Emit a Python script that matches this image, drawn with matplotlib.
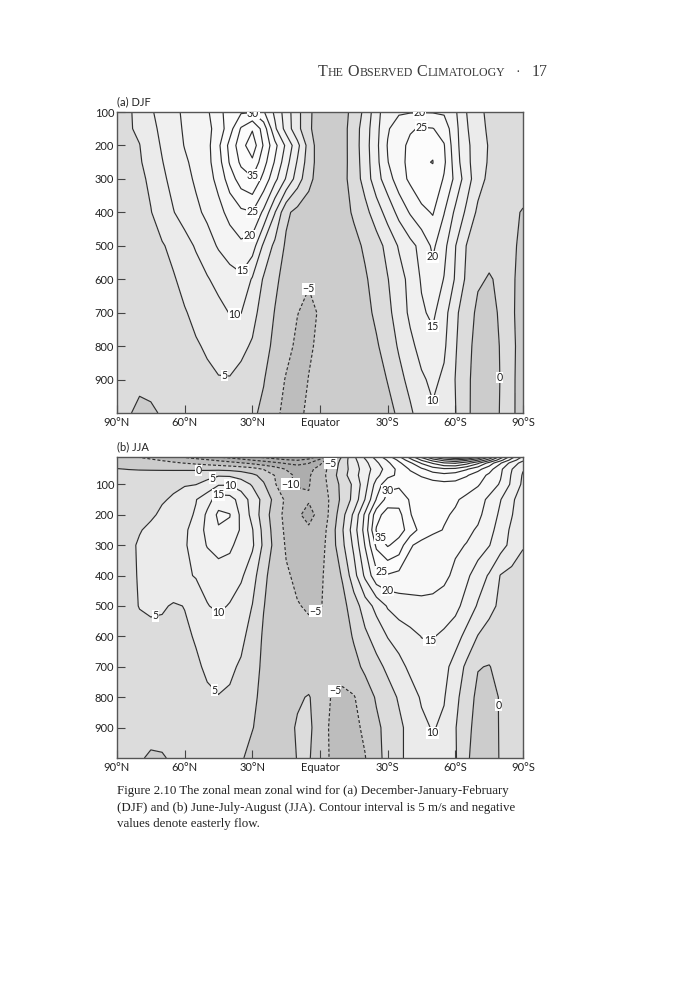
import numpy as np
import matplotlib
matplotlib.use("Agg")
import matplotlib.pyplot as plt

# zonal mean zonal wind (m/s) on a 5 degree grid
lats = [90, 85, 80, 75, 70, 65, 60, 55, 50, 45, 40, 35, 30, 25, 20, 15, 10, 5, 0,
        -5, -10, -15, -20, -25, -30, -35, -40, -45, -50, -55, -60, -65, -70, -75, -80, -85, -90]

p_djf = [100, 150, 200, 250, 300, 400, 500, 600, 700, 800, 900, 1000]
p_jja = [10, 20, 30, 50, 70, 100, 150, 200, 250, 300, 400, 500, 600, 700, 800, 900, 1000]

# (a) DJF, one list per pressure level, 90N -> 90S
djf_100 = [3, 4.3, 6.5, 9.5, 11.5, 13.8, 15.8, 17.3, 19.3, 23.3, 27.5, 29.4, 29.8, 25.5, 19, 12.5, 6.5, 1, -2.5,
           -3, -2, 1.8, 6.3, 13, 18.5, 19.4, 19.7, 19.8, 19.7, 19.3, 15.7, 10, 6.4, 3.8, 3.5, 3.3, 3.2]
djf_150 = [3.5, 4.5, 5.8, 8.5, 11.2, 13.5, 15.5, 17, 18.7, 22, 28, 35.5, 39.5, 33, 21, 13, 6.5, 1, -3,
           -3.2, -1.8, 2.5, 7.5, 13.5, 19.5, 22.5, 24.5, 25.5, 25.2, 23, 16.5, 10.5, 6.8, 4.2, 3.6, 3.4, 3.3]
djf_200 = [2.5, 3.8, 4.9, 7.8, 10.5, 12.8, 15.2, 16.8, 18.5, 24, 31.5, 38, 43, 34.5, 26.5, 19, 11.5, 3, -3,
           -3.3, -1.8, 2.5, 7.8, 13.8, 20.3, 23.5, 26, 29, 29.3, 25.3, 16.8, 11, 7.6, 4.6, 3.6, 3.3, 3]
djf_250 = [2, 3, 4.5, 7, 9.8, 12.3, 14.3, 16.3, 18.5, 23, 30.5, 36, 39, 32, 24.5, 17, 9.5, 2.5, -2.5,
           -3.2, -1.7, 2.3, 7.5, 13.5, 19.8, 23.5, 26.3, 29.6, 30.1, 26, 17.5, 11.2, 7.5, 4.4, 3.4, 3.1, 2.8]
djf_300 = [1.5, 2.5, 3.8, 6, 9, 11.5, 13.5, 15.7, 18, 21.5, 27.5, 32.5, 34.5, 28.5, 21.5, 14.5, 7.5, 1.5, -2.5,
           -3, -1.5, 2.2, 7, 13, 17.7, 22.7, 26, 28.8, 29, 24.5, 18.8, 12.3, 7, 3.8, 3, 2.5, 2]
djf_400 = [1, 2, 3.3, 4.8, 7.5, 9.8, 12, 14, 16, 18.5, 21.5, 24, 24.8, 19, 10.2, 1, -1.5, -2.5, -3,
           -3, -2, 0.7, 3.5, 7.5, 12, 16.5, 20.5, 23.7, 25.4, 20.2, 14, 9, 4, 2.5, 1.8, 0.8, -0.3]
djf_500 = [0.5, 1.5, 2.5, 3.5, 4.6, 6.2, 8.2, 10.5, 13, 15.5, 17.5, 19, 17.5, 9, 3.8, -0.8, -2.5, -3.3, -3.5,
           -3.3, -2.8, -1.5, 0.8, 3, 6.5, 10.5, 13.5, 16.5, 21, 16.5, 10.2, 4.8, 2.5, 1.3, 1.2, 0.6, -0.8]
djf_600 = [0.3, 1, 2, 2.8, 3.6, 4.6, 6.3, 7.8, 9.6, 11.5, 13, 14, 9.5, 4.5, 1, -1.8, -3.5, -4.6, -4.5,
           -4, -3.3, -2.5, -0.6, 2, 4.8, 8, 11.5, 15.5, 18, 14.8, 9.5, 4, 0.6, -0.3, 0.6, 0.4, -1]
djf_700 = [0.2, 0.8, 1.5, 2.2, 2.8, 3.5, 4.7, 6, 7.3, 8.5, 10.2, 10.1, 6.5, 3, -0.2, -3.3, -4.9, -6, -4.6,
           -4.4, -3.8, -3, -1.5, 1, 3.8, 7.2, 11, 14.3, 16, 12, 6, 2.3, -1, -1.3, 0.5, 0.4, -1.2]
djf_800 = [0.2, 0.5, 1, 1.6, 2.2, 3, 3.8, 4.6, 5.5, 6.3, 6.7, 6, 4.5, 1.8, -1.2, -3.8, -5.8, -5.5, -4.3,
           -4.6, -4.3, -3.6, -2.5, -0.6, 2.2, 5.6, 8.8, 11.7, 13.5, 10.8, 5.5, 1.3, -1.5, -1.8, 0.2, 0.6, -1.2]
djf_900 = [0.3, 0.5, 0.5, 1, 1.5, 2, 2.7, 3.4, 4.2, 4.8, 4.8, 3.8, 2.2, 0.3, -3, -5.3, -6.5, -4.9, -3.5,
           -4.2, -4.5, -4.2, -3.4, -2, 0.2, 3.5, 6.5, 9.3, 11, 9.2, 4.9, 0.8, -1.6, -1.9, 0.1, 0.5, -1.2]
djf_1000 = [0.3, 0.2, -0.5, -0.5, 0.3, 0.8, 1.5, 2.2, 2.8, 3, 2.8, 2, 0.9, -1.1, -4, -6.2, -5.9, -4.3, -3,
            -3.8, -4.2, -4.4, -4, -3, -1.4, 0.8, 4.2, 7.5, 9.4, 8, 5.2, 0.7, -1.5, -1.8, 0.2, 0.4, -1]

# (b) JJA
jja_10 = [-3.5, -4.2, -5.2, -6, -7.5, -9, -10.5, -12, -13.5, -15.2, -16.5, -18, -19.5, -21, -22.5, -24, -25.3, -23, -18,
          -9, 1, 9, 16, 22, 28, 34, 42, 51, 60.5, 67, 71, 69, 61, 50.5, 38, 27, 19]
jja_20 = [-2.5, -3, -3.8, -4.5, -5.3, -6.2, -7.2, -8.3, -9.5, -10.8, -12, -13.5, -15.2, -16.5, -18, -19.5, -20.3, -18.5, -14,
          -6, 2, 8.5, 14.5, 20.3, 25.5, 31, 38, 45.5, 52, 57, 59.5, 56, 50.5, 42, 32, 23, 16]
jja_30 = [-1.8, -2.2, -2.8, -3.3, -3.8, -4.4, -5.1, -5.8, -6.6, -7.5, -8.5, -9.6, -11, -12.5, -14, -15.5, -16.5, -15.2, -11,
          -4.5, 2.5, 8, 13.5, 19, 24, 29, 34, 40.5, 45.5, 49.5, 50.5, 47, 41, 33, 25.5, 18, 13]
jja_50 = [0.2, -0.1, -0.3, -0.4, -0.5, -0.6, -0.7, -0.8, -0.9, -1, -1.3, -2, -3, -5.2, -7.5, -10.2, -12, -11.5, -8,
          -3, 2.5, 7.5, 12.5, 17.5, 22, 26.5, 30.5, 34, 37.5, 39, 38.5, 35.5, 31.5, 27, 21, 15.2, 10.3]
jja_70 = [1.5, 1.6, 1.7, 1.8, 2, 2.3, 2.7, 3, 3.5, 4.5, 4.3, 3, 1, -1.5, -5.2, -8.5, -11, -10.5, -7.5,
          -2.5, 3, 8, 13, 18.5, 23.5, 26, 28.5, 30.5, 32.5, 33.5, 32.5, 30.5, 27.5, 24, 20.5, 14.5, 9.5]
jja_100 = [2.5, 2.7, 3, 3.3, 3.8, 4.2, 4.6, 4.9, 6.5, 9.5, 9.6, 7.5, 4.5, 0.5, -4.5, -9.8, -10.3, -10.2, -8,
           -3, 1.5, 6, 13, 22, 28.5, 29, 28, 27.5, 28, 28.5, 28.5, 27, 25.5, 22.5, 19.5, 14, 9]
jja_150 = [2.5, 2.8, 3.3, 4, 4.6, 5.5, 7.5, 9.8, 13, 17.5, 17, 13, 8, 3.5, -1.5, -6, -8.8, -9.7, -8.5,
           -4, 1.5, 6.5, 15.2, 25.3, 32, 33, 29.5, 26.5, 26, 26.5, 25.5, 24, 22, 19, 15.2, 11, 7]
jja_200 = [2.3, 2.6, 3, 4.3, 5.8, 7.2, 8.6, 10.5, 16, 21, 20.2, 14, 8.5, 2.5, -2.5, -6.5, -9.5, -11, -9,
           -3.5, 3.5, 11, 21, 33, 37.5, 36.5, 30.3, 27, 26, 25.5, 24.5, 23, 21, 18, 14, 10.3, 6]
jja_250 = [2.3, 3, 4.7, 6, 7, 8.2, 9.3, 11.8, 16.5, 19.5, 19, 14.3, 10.3, 3.5, -2, -6, -8.5, -9.5, -8,
           -2.5, 4.7, 12.5, 22, 35.5, 38, 37, 33, 28, 26, 24.8, 23, 21, 19.5, 16.5, 13, 9, 5.5]
jja_300 = [2.5, 3.8, 5.6, 6.5, 7.2, 8, 9.5, 12, 15.3, 17, 16, 13, 10.8, 4, -1.5, -5.5, -7.5, -8, -7,
           -2.5, 4, 11, 20.3, 31, 35.5, 33, 25.5, 23.5, 22.5, 21.5, 20.8, 19.8, 17.5, 15.2, 12, 8.5, 5.3]
jja_400 = [2.3, 3.8, 5.4, 6.5, 7.3, 8.2, 9.3, 10.3, 11.5, 12.5, 12.3, 10.8, 7, 1.5, -3, -4.5, -5.8, -6.5, -5.8,
           -3, 0.5, 8, 16, 23.5, 24.5, 23.5, 22.5, 22, 21.5, 21, 19, 16, 12.5, 9.5, 4.8, 3.5, 3.2]
jja_500 = [2, 3.5, 5.2, 5.8, 5.5, 4.6, 5.1, 7.3, 9.8, 10.8, 9.7, 7.5, 4.9, 0.2, -2.6, -4, -4.8, -5.4, -5.1,
           -4.5, -1.5, 2.5, 7.5, 11.5, 15.5, 17.5, 18.5, 19, 19, 18, 16.5, 13, 9.5, 6.5, 4, 3, 2]
jja_600 = [1.5, 2.5, 3.3, 3.6, 3.7, 3.9, 4.4, 5.3, 6.6, 7.3, 7, 6, 3.4, -0.7, -2.5, -3.5, -3.8, -4, -4,
           -4, -2.5, 0.5, 4, 7, 10.2, 12, 13.5, 15.1, 15.3, 14, 12, 8.5, 4.8, 3, 2.5, 2.3, 1.5]
jja_700 = [1.2, 1.8, 2.3, 2.6, 2.9, 3.2, 3.7, 4.5, 5.5, 6, 5.7, 4.5, 2, -1, -2.5, -3, -2.7, -3, -3.5,
           -3.8, -3.5, -1.5, 1, 3.5, 6, 8.5, 11, 13, 13.5, 11.5, 8, 4, 0.2, -0.2, 1.5, 2, 1]
jja_800 = [0.8, 1.2, 1.5, 1.8, 2.1, 2.5, 3, 3.7, 4.5, 4.9, 4.5, 3.3, 1, -1.3, -2.2, -2, -0.6, 0.3, -2,
           -5.2, -5.8, -5.3, -2.5, 0.5, 3, 5.5, 8, 10.5, 12, 10.3, 6.5, 2, -1, -1.3, 0.3, 1.5, 0.5]
jja_900 = [0.8, 0.9, 1, 1.1, 1.3, 1.6, 2, 2.5, 3, 3.3, 3, 1.8, 0.2, -1.8, -2.5, -1.5, 0.5, 1, -2.5,
           -5.8, -6.8, -6.3, -4, -1, 1.5, 4, 6.5, 9, 10.3, 9.2, 5.3, 1, -1.3, -1.5, 0.3, 0.8, 0.2]
jja_1000 = [0.5, 0.5, 0.3, -0.4, -0.3, 0.5, 1, 1.5, 2, 2.3, 2, 0.5, -1.5, -3, -3.5, -2, 0.2, 0.5, -3,
            -5.5, -6.5, -6.5, -5.2, -1, 1, 4, 6.5, 8, 9, 8, 5.5, 0.5, -1.5, -1.8, 0.3, 0.8, 0.1]

lat_ticks = [90, 60, 30, 0, -30, -60, -90]
lat_labels = ["90°N", "60°N", "30°N", "Equator", "30°S", "60°S", "90°S"]
p_ticks = [100, 200, 300, 400, 500, 600, 700, 800, 900]

# where the contour labels sit: (level, lat, pressure)
djf_spots = [(30, 30, 106), (35, 30, 288), (25, 30, 400), (20, 31, 476), (15, 35, 570),
             (10, 37.7, 712), (5, 42.5, 893), (-5, 4, 616), (20, -44, 104), (25, -45, 148),
             (20, -50, 557), (15, -50, 750), (10, -50, 964), (0, -80, 894)]
jja_spots = [(0, 54, 56), (5, 47.5, 80), (10, 40, 106), (15, 45, 134), (-10, 15, 104),
             (-5, -3.5, 27), (30, -30, 120), (35, -27, 275), (25, -27, 391), (20, -30, 447),
             (5, 73, 530), (10, 45, 533), (-5, 2, 520), (15, -48, 630), (5, 48, 785),
             (-5, -6, 771), (0, -77.6, 827), (10, -50, 916)]

W, H = 700, 1000
plt.rcParams["font.family"] = ["Lato", "DejaVu Sans"]
plt.rcParams["lines.dashed_pattern"] = (2.6, 1.7)
SERIF = ["Liberation Serif", "DejaVu Serif"]

levels = np.arange(-30, 85, 5)


def band_color(lo):
    # darker for easterlies, near white inside the jets
    if lo < -10:
        return "#adadad"
    if lo < -5:
        return "#bdbdbd"
    if lo < 0:
        return "#cccccc"
    if lo < 5:
        return "#dcdcdc"
    if lo < 10:
        return "#ebebeb"
    if lo < 15:
        return "#f0f0f0"
    if lo < 20:
        return "#f4f4f4"
    if lo < 25:
        return "#f8f8f8"
    return "#fcfcfc"


def fmt(v):
    return "{:.0f}".format(v).replace("-", "\u2212")


def draw_panel(ax, p, rows, ytop, spots):
    U = np.array(rows)
    fills = [band_color(lo) for lo in levels[:-1]]
    ax.contourf(lats, p, U, levels=levels, colors=fills)
    styles = ["dashed" if lv < 0 else "solid" for lv in levels]
    ax.contour(lats, p, U, levels=levels, colors="#2e2e2e",
               linewidths=0.85, linestyles=styles)
    # one invisible single-level set per label, so each label lands on its own level
    for lev, x, y in spots:
        one = ax.contour(lats, p, U, levels=[lev], colors="none", linewidths=0)
        txts = ax.clabel(one, manual=[(x, y)], inline=False, fmt=fmt,
                         fontsize=7.6, colors="#1e1e1e")
        for t in txts:
            t.set_rotation(0)
            t.set_bbox(dict(boxstyle="square,pad=0.04", fc="white", ec="none"))
    ax.set_xlim(90, -90)
    ax.set_ylim(1000, ytop)
    ax.set_xticks(lat_ticks)
    ax.set_xticklabels(lat_labels)
    ax.set_yticks(p_ticks)
    ax.tick_params(direction="in", length=6, width=0.8, color="#444",
                   labelcolor="#222", labelsize=8, top=False, right=False)
    ax.tick_params(axis="x", pad=3)
    ax.tick_params(axis="y", pad=2)
    for s in ax.spines.values():
        s.set_color("#555")
        s.set_linewidth(1.0)


fig = plt.figure(figsize=(7, 10), dpi=100)
ax_a = fig.add_axes([117 / W, 1 - 413 / H, 406 / W, 301 / H])
ax_b = fig.add_axes([117 / W, 1 - 758 / H, 406 / W, 301 / H])

djf = [djf_100, djf_150, djf_200, djf_250, djf_300, djf_400, djf_500,
       djf_600, djf_700, djf_800, djf_900, djf_1000]
jja = [jja_10, jja_20, jja_30, jja_50, jja_70, jja_100, jja_150, jja_200, jja_250,
       jja_300, jja_400, jja_500, jja_600, jja_700, jja_800, jja_900, jja_1000]

draw_panel(ax_a, p_djf, djf, 100, djf_spots)
draw_panel(ax_b, p_jja, jja, 10, jja_spots)

fig.text(117 / W, 1 - 102 / H, "(a) DJF", fontsize=8, va="center", ha="left", color="#222")
fig.text(117 / W, 1 - 447 / H, "(b) JJA", fontsize=8, va="center", ha="left", color="#222")

# running head in small capitals
renderer = fig.canvas.get_renderer()
head = [("T", 11.5, 0), ("HE", 8.6, 0), ("O", 11.5, 4), ("BSERVED", 8.6, 0),
        ("C", 11.5, 4), ("LIMATOLOGY", 8.6, 0), ("·", 10, 11), ("17", 11.5, 11)]
x = 318
for txt, size, gap in head:
    x += gap
    t = fig.text(x / W, 1 - 76 / H, txt, fontsize=size, family=SERIF,
                 color="#3a3a3a", va="baseline", ha="left")
    x += t.get_window_extent(renderer=renderer).width

caption = ["Figure 2.10 The zonal mean zonal wind for (a) December-January-February",
           "(DJF) and (b) June-July-August (JJA). Contour interval is 5 m/s and negative",
           "values denote easterly flow."]
for i, line in enumerate(caption):
    fig.text(117 / W, 1 - (794 + 16.5 * i) / H, line, fontsize=9.3, family=SERIF,
             color="#222", va="baseline", ha="left")

fig.savefig("out.png", dpi=100)
